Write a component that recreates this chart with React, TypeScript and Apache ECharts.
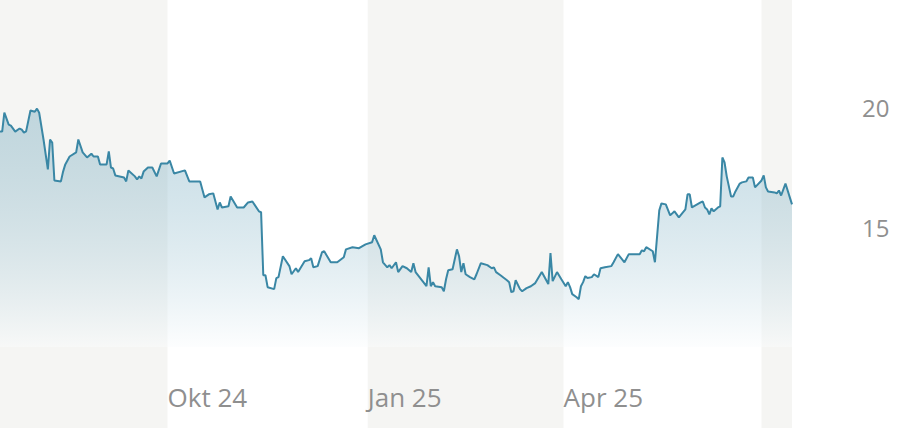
import React, { useEffect, useRef } from "react";
import * as echarts from "echarts";

const dates = [
  "2024-07-16","2024-07-17","2024-07-18","2024-07-20","2024-07-21","2024-07-23","2024-07-25","2024-07-26","2024-07-27","2024-07-28",
  "2024-07-30","2024-08-01","2024-08-02","2024-08-03","2024-08-05","2024-08-07","2024-08-08","2024-08-09","2024-08-10","2024-08-13",
  "2024-08-14","2024-08-15","2024-08-17","2024-08-20","2024-08-21","2024-08-23","2024-08-25","2024-08-27","2024-08-28","2024-08-30",
  "2024-08-31","2024-09-03","2024-09-04","2024-09-05","2024-09-06","2024-09-07","2024-09-11","2024-09-12","2024-09-13","2024-09-16",
  "2024-09-17","2024-09-18","2024-09-19","2024-09-20","2024-09-22","2024-09-24","2024-09-26","2024-09-28","2024-10-01","2024-10-02",
  "2024-10-04","2024-10-09","2024-10-11","2024-10-16","2024-10-18","2024-10-20","2024-10-22","2024-10-24","2024-10-25","2024-10-26",
  "2024-10-29","2024-10-30","2024-11-02","2024-11-05","2024-11-07","2024-11-09","2024-11-12","2024-11-13","2024-11-14","2024-11-15",
  "2024-11-16","2024-11-19","2024-11-20","2024-11-21","2024-11-23","2024-11-26","2024-11-27","2024-11-29","2024-11-30","2024-12-03",
  "2024-12-05","2024-12-06","2024-12-07","2024-12-09","2024-12-11","2024-12-12","2024-12-15","2024-12-18","2024-12-21","2024-12-22",
  "2024-12-25","2024-12-28","2024-12-31","2025-01-03","2025-01-04","2025-01-07","2025-01-08","2025-01-10","2025-01-11","2025-01-12",
  "2025-01-14","2025-01-15","2025-01-17","2025-01-19","2025-01-21","2025-01-22","2025-01-23","2025-01-28","2025-01-29","2025-01-30",
  "2025-01-31","2025-02-01","2025-02-04","2025-02-05","2025-02-06","2025-02-07","2025-02-09","2025-02-11","2025-02-12","2025-02-13",
  "2025-02-14","2025-02-15","2025-02-17","2025-02-19","2025-02-20","2025-02-22","2025-02-25","2025-02-27","2025-02-28","2025-03-01",
  "2025-03-03","2025-03-06","2025-03-07","2025-03-08","2025-03-09","2025-03-10","2025-03-12","2025-03-13","2025-03-15","2025-03-17",
  "2025-03-19","2025-03-22","2025-03-25","2025-03-26","2025-03-27","2025-03-29","2025-03-31","2025-04-02","2025-04-03","2025-04-04",
  "2025-04-05","2025-04-07","2025-04-08","2025-04-09","2025-04-10","2025-04-11","2025-04-12","2025-04-14","2025-04-15","2025-04-17",
  "2025-04-18","2025-04-20","2025-04-23","2025-04-24","2025-04-26","2025-04-29","2025-05-01","2025-05-06","2025-05-07","2025-05-08",
  "2025-05-09","2025-05-12","2025-05-13","2025-05-15","2025-05-16","2025-05-18","2025-05-20","2025-05-22","2025-05-24","2025-05-27",
  "2025-05-28","2025-05-29","2025-05-30","2025-06-03","2025-06-04","2025-06-05","2025-06-06","2025-06-07","2025-06-08","2025-06-09",
  "2025-06-11","2025-06-12","2025-06-13","2025-06-14","2025-06-15","2025-06-17","2025-06-18","2025-06-19","2025-06-21","2025-06-22",
  "2025-06-24","2025-06-25","2025-06-27","2025-06-28","2025-07-01","2025-07-02","2025-07-03","2025-07-04","2025-07-07","2025-07-08",
  "2025-07-09","2025-07-10","2025-07-12","2025-07-15"
];

const prices = [
  19.01,19.0,19.79,19.29,19.25,19.0,19.13,19.08,18.96,19.01,
  19.88,19.83,19.96,19.79,18.67,17.42,18.67,18.54,16.96,16.92,
  17.33,17.63,17.96,18.13,18.67,18.13,17.92,18.08,17.96,17.96,
  17.63,17.63,18.17,17.5,17.46,17.17,17.08,16.92,17.38,17.13,
  17.0,17.13,17.04,17.33,17.5,17.5,17.13,17.67,17.67,17.79,
  17.25,17.38,16.92,16.92,16.25,16.38,16.42,15.75,16.04,15.83,
  15.88,16.29,15.83,15.83,16.04,16.08,15.67,15.63,13.0,13.0,
  12.5,12.42,12.88,12.92,13.79,13.38,13.04,13.29,13.13,13.58,
  13.63,13.71,13.33,13.38,13.96,14.0,13.54,13.54,13.75,14.08,
  14.17,14.13,14.29,14.38,14.67,14.08,13.54,13.33,13.42,13.29,
  13.54,13.13,13.38,13.29,13.13,13.5,13.13,12.54,13.33,12.54,
  12.71,12.54,12.5,12.33,12.83,13.21,13.25,14.08,13.79,13.13,
  13.5,13.04,12.92,12.83,13.04,13.5,13.42,13.29,13.33,13.13,
  13.0,12.79,12.71,12.29,12.33,12.79,12.42,12.33,12.46,12.54,
  12.67,13.13,12.63,13.92,12.75,13.13,12.83,12.54,12.71,12.5,
  12.21,12.08,12.0,12.54,12.71,12.96,12.88,12.92,13.04,12.92,
  13.29,13.33,13.38,13.54,13.88,13.54,13.88,13.88,14.04,14.0,
  14.17,14.0,13.54,15.71,16.0,15.96,15.5,15.67,15.42,15.75,
  16.38,16.38,15.83,16.04,16.08,15.83,15.75,15.54,15.79,15.67,
  15.83,15.88,17.92,17.71,17.13,16.29,16.29,16.5,16.83,16.88,
  16.92,17.08,17.08,16.67,16.96,17.17,16.67,16.5,16.46,16.42,
  16.54,16.33,16.83,15.96
];

const xStart = "2024-07-16";
const xEnd = "2025-07-15";
const quarterStarts = ["2024-10-01", "2025-01-01", "2025-04-01", "2025-07-01"];
const quarterLabels = ["Okt 24", "Jan 25", "Apr 25", ""];
const yTicks = [15, 20];
const yMin = 10;
const yMax = 24.5;

const LABEL_COLOR = "#8f8f8f";
const BAND_COLOR = "#f5f5f3";
const LINE_COLOR = "#3a87a5";
const FONT = "'Open Sans', 'Noto Sans', sans-serif";

export default function App() {
  const ref = useRef<HTMLDivElement>(null);

  useEffect(() => {
    if (!ref.current) return;
    const chart = echarts.init(ref.current, undefined, { renderer: "svg" });
    const parse = (s: string) => {
      const [y, m, d] = s.split("-").map(Number);
      return Date.UTC(y, m - 1, d);
    };
    const qTimes = quarterStarts.map(parse);
    const labelTimes = qTimes.filter((_, i) => quarterLabels[i] !== "");

    chart.setOption({
      animation: false,
      grid: { left: 0, right: 110, top: 0, bottom: 81, containLabel: false },
      xAxis: {
        type: "value",
        min: parse(xStart),
        max: parse(xEnd),
        axisLine: { show: false },
        axisTick: { show: false },
        splitLine: { show: false },
        axisLabel: {
          customValues: labelTimes,
          align: "left",
          margin: 37,
          fontSize: 26,
          fontFamily: FONT,
          color: LABEL_COLOR,
          formatter: (v: number) => {
            const i = qTimes.findIndex((t) => Math.abs(t - v) < 3600000);
            return i >= 0 ? quarterLabels[i] : "";
          },
        },
      },
      yAxis: {
        type: "value",
        position: "right",
        min: yMin,
        max: yMax,
        axisLine: { show: false },
        axisTick: { show: false },
        splitLine: { show: false },
        axisLabel: {
          customValues: yTicks,
          margin: 70,
          align: "left",
          fontSize: 24,
          fontFamily: FONT,
          color: LABEL_COLOR,
        },
      },
      series: [
        {
          type: "line",
          data: dates.map((d, i) => [parse(d), prices[i]]),
          showSymbol: false,
          symbol: "none",
          lineStyle: { color: LINE_COLOR, width: 2 },
          areaStyle: {
            color: new echarts.graphic.LinearGradient(0, 0, 0, 1, [
              { offset: 0, color: "rgba(58,135,165,0.40)" },
              { offset: 1, color: "rgba(250,252,253,0.65)" },
            ]),
          },
          z: 3,
        },
      ],
    });

    const bounds = [xStart, ...quarterStarts, xEnd].map(
      (s) => chart.convertToPixel({ xAxisIndex: 0 }, parse(s)) as number
    );
    const rects: any[] = [];
    for (let i = 0; i < bounds.length - 1; i++) {
      if (i % 2 === 0) {
        rects.push({
          type: "rect",
          z: -10,
          silent: true,
          shape: { x: bounds[i], y: 0, width: bounds[i + 1] - bounds[i], height: 428 },
          style: { fill: BAND_COLOR },
        });
      }
    }
    chart.setOption({ graphic: rects });

    return () => chart.dispose();
  }, []);

  return (
    <div
      ref={ref}
      style={{ position: "fixed", left: 0, top: 0, width: 902, height: 428, background: "#fff" }}
    />
  );
}
